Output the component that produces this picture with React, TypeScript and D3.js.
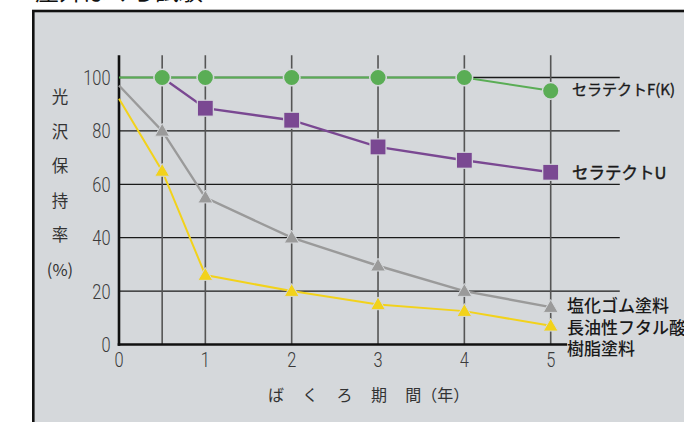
import React from "react";
import * as d3 from "d3";

// 屋外ばくろ試験 — 光沢保持率
const years = [0, 0.5, 1, 2, 3, 4, 5];
const fkValues = [100, 100, 100, 100, 100, 100, 95];
const uYears = [0.5, 1, 2, 3, 4, 5];
const uValues = [100, 88.5, 84, 74, 69, 64.5];
const rubberValues = [97, 80, 55, 40, 29.5, 20, 14];
const alkydValues = [92, 65, 26, 20, 15, 12.5, 7];
const yTicks = [0, 20, 40, 60, 80, 100];
const xTicks = [0, 1, 2, 3, 4, 5];
const gridYears = [0.5, 1, 2, 3, 4, 5];
const yLabelChars = ["光", "沢", "保", "持", "率", "(%)"];

const BG = "#d5d8db";
const GREEN = "#5aad55";
const PURPLE = "#7a4892";
const GRAY = "#9a9a9a";
const YELLOW = "#f2d21b";
const JP = "'Noto Sans CJK JP', 'Noto Sans', sans-serif";
const NUM = "Roboto, 'Liberation Sans', sans-serif";

type Pt = [number, number];

const App = () => {
  const x = d3.scaleLinear().domain([0, 5]).range([119, 550.7]);
  const y = d3.scaleLinear().domain([0, 100]).range([344.5, 77.5]);
  const line = d3
    .line<Pt>()
    .x((d) => x(d[0]))
    .y((d) => y(d[1]));

  const fk: Pt[] = years.map((t, i) => [t, fkValues[i]]);
  const u: Pt[] = uYears.map((t, i) => [t, uValues[i]]);
  const rubber: Pt[] = years.map((t, i) => [t, rubberValues[i]]);
  const alkyd: Pt[] = years.map((t, i) => [t, alkydValues[i]]);

  const tri = d3.symbol().type(d3.symbolTriangle).size(95)() as string;

  return (
    <div style={{ position: "fixed", left: 0, top: 0, width: 684, height: 422 }}>
      <svg width={684} height={422} style={{ display: "block", background: "#fff" }}>
        <text x={35} y={-0.5} fontSize={24} fontFamily={JP} fill="#111">
          屋外ばくろ試験
        </text>
        <rect x={33.3} y={11} width={700} height={450} fill={BG} stroke="#111" strokeWidth={2.6} />

        {/* horizontal grid */}
        {yTicks
          .filter((v) => v > 0)
          .map((v) => (
            <line key={v} x1={x(0)} x2={x(5.8)} y1={y(v)} y2={y(v)} stroke="#1a1a1a" strokeWidth={1.3} />
          ))}
        {/* vertical grid */}
        {gridYears.map((t) => (
          <line key={t} x1={x(t)} x2={x(t)} y1={y(108.3)} y2={y(0)} stroke="#555" strokeWidth={1.6} />
        ))}
        {/* axes */}
        <line x1={x(0)} x2={x(0)} y1={y(108.3)} y2={y(0) + 1.3} stroke="#111" strokeWidth={2.6} />
        <line x1={x(0) - 1.3} x2={x(5.19)} y1={y(0)} y2={y(0)} stroke="#111" strokeWidth={2.6} />

        {yTicks.map((v) => (
          <text
            key={v}
            transform={`translate(110.5,${y(v)}) scale(0.78,1)`}
            dy="0.36em"
            textAnchor="end"
            fontSize={21}
            fontWeight={300}
            fontFamily={NUM}
            fill="#3a3a3a"
          >
            {v}
          </text>
        ))}
        {xTicks.map((t) => (
          <text
            key={t}
            transform={`translate(${x(t)},367) scale(0.78,1)`}
            textAnchor="middle"
            fontSize={21}
            fontWeight={300}
            fontFamily={NUM}
            fill="#3a3a3a"
          >
            {t}
          </text>
        ))}

        {yLabelChars.map((c, i) => (
          <text key={c} x={60} y={97 + i * 34.6} dy="0.36em" textAnchor="middle" fontSize={16.5} fontFamily={JP} fill="#333">
            {c}
          </text>
        ))}
        <text x={268} y={401} fontSize={16} fontFamily={JP} fill="#333">
          <tspan letterSpacing={18.3}>ばくろ期</tspan>
          <tspan>間（年）</tspan>
        </text>

        {/* series */}
        <path d={line(alkyd) ?? ""} fill="none" stroke={YELLOW} strokeWidth={2} />
        <path d={line(rubber) ?? ""} fill="none" stroke={GRAY} strokeWidth={2.4} />
        <path d={line(fk) ?? ""} fill="none" stroke={GREEN} strokeWidth={2} />
        <path d={line(u) ?? ""} fill="none" stroke={PURPLE} strokeWidth={2.4} />

        {alkyd.slice(1).map((d) => (
          <path key={d[0]} d={tri} transform={`translate(${x(d[0])},${y(d[1]) + 1})`} fill={YELLOW} stroke={BG} strokeWidth={1} />
        ))}
        {rubber.slice(1).map((d) => (
          <path key={d[0]} d={tri} transform={`translate(${x(d[0])},${y(d[1]) + 1})`} fill={GRAY} stroke={BG} strokeWidth={1} />
        ))}
        {fk.slice(1).map((d) => (
          <circle key={d[0]} cx={x(d[0])} cy={y(d[1])} r={8.3} fill={GREEN} stroke={BG} strokeWidth={1.5} />
        ))}
        {u.slice(1).map((d) => (
          <rect key={d[0]} x={x(d[0]) - 8} y={y(d[1]) - 8} width={16} height={16} fill={PURPLE} stroke={BG} strokeWidth={1.2} />
        ))}

        {/* series labels */}
        <text x={572} y={y(fkValues[6]) - 1.5} dy="0.36em" fontSize={15} fontFamily={JP} fill="#1a1a1a" stroke="#1a1a1a" strokeWidth={0.35}>
          セラテクトF(K)
        </text>
        <text x={572} y={y(uValues[5]) + 0.5} dy="0.36em" fontSize={16.5} fontFamily={JP} fill="#1a1a1a" stroke="#1a1a1a" strokeWidth={0.45}>
          セラテクトU
        </text>
        <text x={567} y={306} dy="0.36em" fontSize={17} fontWeight={500} fontFamily={JP} fill="#1a1a1a">
          塩化ゴム塗料
        </text>
        <text x={567} y={327.5} dy="0.36em" fontSize={17} fontWeight={500} fontFamily={JP} fill="#1a1a1a">
          長油性フタル酸
        </text>
        <text x={567} y={348.5} dy="0.36em" fontSize={17} fontWeight={500} fontFamily={JP} fill="#1a1a1a">
          樹脂塗料
        </text>
      </svg>
    </div>
  );
};

export default App;
